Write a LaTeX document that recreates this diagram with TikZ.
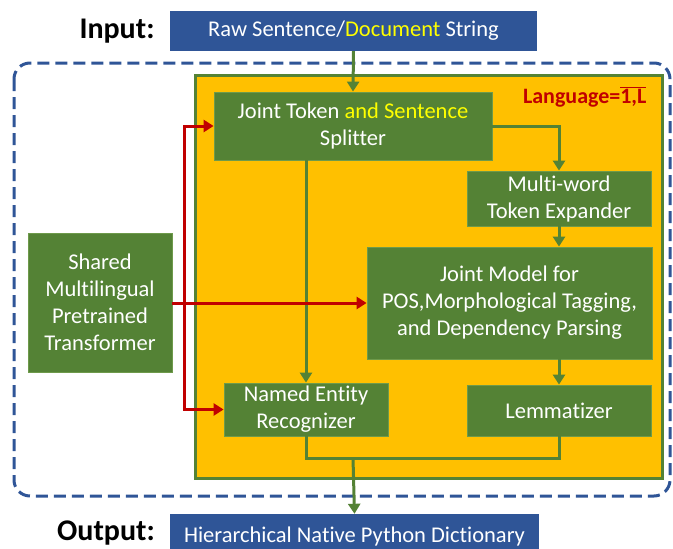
\documentclass[tikz,border=0pt]{standalone}
\usepackage{fontspec}
\setmainfont{Carlito}[Ligatures={NoCommon}]
\usetikzlibrary{arrows.meta}
\definecolor{gbox}{HTML}{548235}
\definecolor{gedge}{HTML}{6E9A4B}
\definecolor{orng}{HTML}{FFC000}
\definecolor{bbox}{HTML}{2F5597}
\definecolor{rline}{HTML}{C00000}
\definecolor{ytxt}{HTML}{FFFF00}
\tikzset{
  gnode/.style={fill=gbox, draw=gedge, line width=0.8pt, text=white, align=center,
    inner sep=0pt, font=\fontsize{22.5}{27}\selectfont},
  bnode/.style={fill=bbox, draw=none, text=white, align=center, inner sep=0pt,
    font=\fontsize{22.5}{26}\selectfont},
  garrow/.style={draw=gbox, line width=3pt, -{Triangle[width=12pt,length=10pt]}},
  gline/.style={draw=gbox, line width=3pt},
  rarrow/.style={draw=rline, line width=3pt, -{Triangle[width=12pt,length=10pt]}},
  lbl/.style={font=\fontsize{30}{32}\selectfont\bfseries, text=black},
}
\begin{document}
\begin{tikzpicture}[x=1pt,y=-1pt]
\useasboundingbox (0,0) rectangle (673,549);
% dashed container
\draw[bbox, line width=3pt, dash pattern=on 12pt off 6pt, rounded corners=16pt] (14,63) rectangle (670,496);
% orange language box
\node[fill=orng, draw=gbox, line width=3pt, minimum width=467pt, minimum height=403pt, inner sep=0pt] (lang) at (428.5,276.5) {};
\node[text=rline, font=\fontsize{22}{24}\selectfont\bfseries, anchor=east] (langlbl) at (650,97) {Language=$\overline{\mbox{1,L}}$};
% input / output
\node[bnode, minimum width=367pt, minimum height=40pt] (input) at (353.5,31) {Raw Sentence/\textcolor{ytxt}{Document} String};
\node[bnode, minimum width=369pt, minimum height=42pt, text depth=0pt] (output) at (354.5,535) {Hierarchical Native Python Dictionary};
\node[lbl] (inlbl) at (117,31) {Input:};
\node[lbl] (outlbl) at (106,533) {Output:};
% green boxes
\node[gnode, minimum width=144pt, minimum height=139pt] (shared) at (100,302.5) {Shared\\Multilingual\\Pretrained\\Transformer};
\node[gnode, minimum width=278pt, minimum height=68pt] (joint) at (353,126) {Joint Token \textcolor{ytxt}{and Sentence}\\Splitter};
\node[gnode, minimum width=184pt, minimum height=55pt] (multi) at (559,198.5) {Multi-word\\Token Expander};
\node[gnode, minimum width=285pt, minimum height=112pt] (jm) at (509.5,303) {Joint Model for\\POS,Morphological Tagging,\\and Dependency Parsing};
\node[gnode, minimum width=164pt, minimum height=53pt] (ner) at (306,409.5) {Named Entity\\Recognizer};
\node[gnode, minimum width=184pt, minimum height=51pt] (lemma) at (559,410.5) {Lemmatizer};
% green connectors
\draw[garrow] (input.south) -- (joint.north);
\draw[garrow] (joint.east) -| (multi.north);
\draw[garrow] (multi.south) -- (multi.south |- jm.north);
\draw[garrow] (ner.north |- joint.south) -- (ner.north);
\draw[garrow] (lemma.north |- jm.south) -- (lemma.north);
\coordinate (join) at (353,458);
\draw[gline] (ner.south) |- (join) -| (lemma.south);
\draw[garrow] (join) -- (output.north);
% red connectors
\coordinate (rsplit) at (184,303);
\draw[rarrow] (shared.east |- jm.west) -- (jm.west);
\draw[rarrow] (rsplit) |- (joint.west);
\draw[rarrow] (rsplit) |- (ner.west);
\end{tikzpicture}
\end{document}
